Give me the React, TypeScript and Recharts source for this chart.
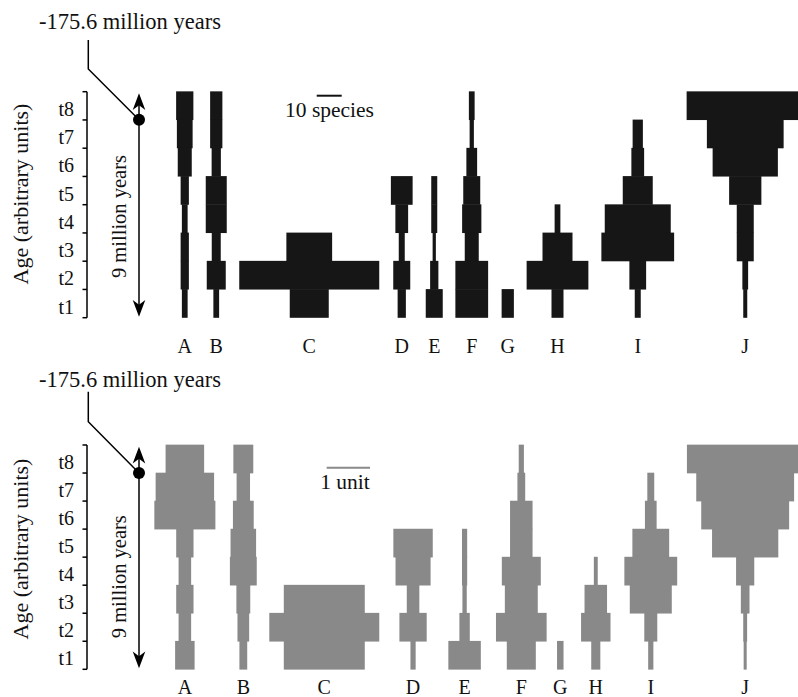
import React from "react";
import { BarChart, Bar, XAxis, YAxis } from "recharts";

const SERIF = '"Liberation Serif", "Times New Roman", "DejaVu Serif", serif';

const clades = ["A", "B", "C", "D", "E", "F", "G", "H", "I", "J"];
const timeBins = ["t1", "t2", "t3", "t4", "t5", "t6", "t7", "t8"];
const survivors = ["A", "B", "F", "J"]; // clades that reach the present (dotted)

// top panel: species richness per bin, t1 .. t8
const speciesA = [2.3, 3.3, 3.3, 2.3, 3.3, 5.6, 6.3, 6.9];
const speciesB = [2.3, 7.6, 3.6, 8.4, 8.4, 3.7, 4.9, 4.9];
const speciesC = [15.6, 56, 18.3, 0, 0, 0, 0, 0];
const speciesD = [3.3, 6.8, 2.4, 5.1, 8.7, 0, 0, 0];
const speciesE = [6.8, 3.3, 1.3, 2.4, 2.4, 0, 0, 0];
const speciesF = [13.1, 13.1, 5.6, 7.7, 6.8, 4.3, 1.7, 2.3];
const speciesG = [4.9, 0, 0, 0, 0, 0, 0, 0];
const speciesH = [4.8, 24.7, 12, 2.3, 0, 0, 0, 0];
const speciesI = [2.4, 6.7, 29.1, 26.4, 12, 5.1, 4.1, 0];
const speciesJ = [1.6, 2.3, 6.8, 6.8, 12.9, 26.1, 30.7, 46.9];
const speciesCenters = [39.1, 51.7, 88.9, 125.9, 138.9, 153.9, 168.3, 188.2, 220.3, 263.3];
const speciesMax = 284.4;

// bottom panel: same clades in arbitrary units, t1 .. t8
const unitsA = [0.45, 0.29, 0.4, 0.29, 0.4, 1.41, 1.35, 0.89];
const unitsB = [0.18, 0.27, 0.32, 0.62, 0.59, 0.48, 0.31, 0.46];
const unitsC = [1.87, 2.54, 1.87, 0, 0, 0, 0, 0];
const unitsD = [0.12, 0.63, 0.29, 0.81, 0.91, 0, 0, 0];
const unitsE = [0.75, 0.24, 0.1, 0.12, 0.12, 0, 0, 0];
const unitsF = [0.67, 1.17, 0.76, 0.9, 0.52, 0.52, 0.18, 0.12];
const unitsG = [0.15, 0, 0, 0, 0, 0, 0, 0];
const unitsH = [0.21, 0.68, 0.52, 0.09, 0, 0, 0, 0];
const unitsI = [0.12, 0.3, 0.97, 1.22, 0.85, 0.27, 0.16, 0];
const unitsJ = [0.07, 0.09, 0.2, 0.42, 1.53, 2.03, 2.26, 2.69];
const unitCenters = [2.26, 3.61, 5.48, 7.53, 8.72, 10.03, 10.93, 11.75, 13.02, 15.2];
const unitMax = 16.42;

// spindles = stacked bars: an invisible gap, then the clade, for every clade
function buildRows(widths: number[][], centers: number[]) {
  return [...timeBins].reverse().map((t) => {
    const k = timeBins.indexOf(t);
    const row: Record<string, any> = { t };
    let edge = 0;
    clades.forEach((c, i) => {
      const w = widths[i][k];
      const left = centers[i] - w / 2;
      row["gap" + c] = left - edge;
      row[c] = w;
      edge = left + w;
    });
    return row;
  });
}

const topRows = buildRows(
  [speciesA, speciesB, speciesC, speciesD, speciesE, speciesF, speciesG, speciesH, speciesI, speciesJ],
  speciesCenters
);
const bottomRows = buildRows(
  [unitsA, unitsB, unitsC, unitsD, unitsE, unitsF, unitsG, unitsH, unitsI, unitsJ],
  unitCenters
);

const serifStyle = { fontFamily: SERIF };

function TimeTick(props: any) {
  const { x, y, payload } = props;
  const half = payload && payload.offset ? payload.offset : 14;
  return (
    <g>
      <line x1={x - 4.5} x2={x} y1={y - half} y2={y - half} stroke="#000" strokeWidth={1.5} />
      {payload.value === "t1" && (
        <line x1={x - 4.5} x2={x} y1={y + half} y2={y + half} stroke="#000" strokeWidth={1.5} />
      )}
      <text x={x - 13} y={y + 10} textAnchor="end" fontSize={20} style={serifStyle} fill="#111">
        {payload.value}
      </text>
    </g>
  );
}

function CladeTick(props: any) {
  const { x, y, payload, names } = props;
  return (
    <text x={x} y={y} textAnchor="middle" fontSize={20} style={serifStyle} fill="#111">
      {names[payload.index] ?? ""}
    </text>
  );
}

// a touch of overlap between bins so no hairline seams show
function Slab(props: any) {
  const { x, y, width, height, fill } = props;
  if (!width || width <= 0) return null;
  return <rect x={x} y={y - 0.35} width={width} height={height + 0.7} fill={fill} />;
}

interface PanelProps {
  rows: Record<string, any>[];
  centers: number[];
  max: number;
  fill: string;
  height: number;
  top: number;
  bottom: number;
  labelY: number;
}

function Panel({ rows, centers, max, fill, height, top, bottom, labelY }: PanelProps) {
  const dotted = survivors.map((s) => centers[clades.indexOf(s)]);
  const plotBottom = height - bottom;
  return (
    <BarChart
      layout="vertical"
      width={798}
      height={height}
      data={rows}
      margin={{ top, right: 0, bottom: 0, left: 0 }}
      barCategoryGap={0}
      barGap={0}
    >
      <XAxis
        xAxisId="main"
        type="number"
        domain={[0, max]}
        allowDataOverflow
        ticks={centers}
        interval={0}
        height={bottom}
        axisLine={false}
        tickLine={false}
        tickSize={0}
        tick={(p: any) => <CladeTick {...p} y={plotBottom + labelY} names={clades} />}
      />
      <XAxis
        xAxisId="top"
        orientation="top"
        type="number"
        domain={[0, max]}
        allowDataOverflow
        ticks={dotted}
        interval={0}
        height={0}
        axisLine={false}
        tickLine={false}
        tick={(p: any) => (
          <line
            x1={p.x}
            x2={p.x}
            y1={top - 49}
            y2={top - 8.5}
            stroke="#000"
            strokeWidth={2}
            strokeDasharray="5 3"
          />
        )}
      />
      <YAxis
        type="category"
        dataKey="t"
        width={87}
        interval={0}
        axisLine={{ stroke: "#000", strokeWidth: 1.5 }}
        tickLine={false}
        tickSize={0}
        tickMargin={0}
        tick={(p: any) => <TimeTick {...p} />}
      />
      {clades.map((c) => [
        <Bar
          key={"gap" + c}
          xAxisId="main"
          dataKey={"gap" + c}
          stackId="s"
          fill="transparent"
          isAnimationActive={false}
        />,
        <Bar
          key={c}
          xAxisId="main"
          dataKey={c}
          stackId="s"
          fill={fill}
          shape={(p: any) => <Slab {...p} fill={fill} />}
          isAnimationActive={false}
        />,
      ])}
    </BarChart>
  );
}

interface NoteProps {
  titleY: number;
  leadTop: number;
  leadBend: number;
  dotY: number;
  arrowTop: number;
  arrowBottom: number;
  midY: number;
  ageY: number;
}

function Notes({ titleY, leadTop, leadBend, dotY, arrowTop, arrowBottom, midY, ageY }: NoteProps) {
  const ax = 139;
  return (
    <g>
      <text x={130} y={titleY} textAnchor="middle" fontSize={22.5} style={serifStyle} fill="#111">
        -175.6 million years
      </text>
      <polyline
        points={`88.3,${leadTop} 88.3,${leadBend} ${ax},${dotY}`}
        fill="none"
        stroke="#000"
        strokeWidth={1.5}
      />
      <line x1={ax} x2={ax} y1={arrowTop + 8} y2={arrowBottom - 8} stroke="#000" strokeWidth={1.5} />
      <path
        d={`M${ax},${arrowTop} L${ax + 6.3},${arrowTop + 16.7} L${ax},${arrowTop + 12} L${ax - 6.3},${arrowTop + 16.7} Z`}
        fill="#000"
      />
      <path
        d={`M${ax},${arrowBottom} L${ax + 6.3},${arrowBottom - 16.7} L${ax},${arrowBottom - 12} L${ax - 6.3},${arrowBottom - 16.7} Z`}
        fill="#000"
      />
      <circle cx={ax} cy={dotY} r={6} fill="#000" />
      <text
        x={126}
        y={midY}
        transform={`rotate(-90, 126, ${midY})`}
        textAnchor="middle"
        fontSize={20.5}
        style={serifStyle}
        fill="#111"
      >
        9 million years
      </text>
      <text
        x={28}
        y={ageY}
        transform={`rotate(-90, 28, ${ageY})`}
        textAnchor="middle"
        fontSize={22}
        style={serifStyle}
        fill="#111"
      >
        Age (arbitrary units)
      </text>
    </g>
  );
}

export default function App() {
  const pxPerSpecies = 711 / speciesMax;
  const pxPerUnit = 711 / unitMax;
  return (
    <div
      style={{
        position: "absolute",
        left: 0,
        top: 0,
        width: 798,
        height: 697,
        background: "#fff",
        fontFamily: SERIF,
      }}
    >
      <div style={{ position: "absolute", left: 0, top: 0 }}>
        <Panel
          rows={topRows}
          centers={speciesCenters}
          max={speciesMax}
          fill="#161616"
          height={365}
          top={91.7}
          bottom={47.3}
          labelY={35.3}
        />
      </div>
      <div style={{ position: "absolute", left: 0, top: 365 }}>
        <Panel
          rows={bottomRows}
          centers={unitCenters}
          max={unitMax}
          fill="#898989"
          height={332}
          top={80}
          bottom={27.7}
          labelY={25}
        />
      </div>
      <svg
        width={798}
        height={697}
        style={{ position: "absolute", left: 0, top: 0, pointerEvents: "none" }}
      >
        <Notes titleY={29} leadTop={40} leadBend={69} dotY={119.7} arrowTop={93.3} arrowBottom={316.7} midY={216.5} ageY={194} />
        <Notes titleY={386.7} leadTop={391.7} leadBend={421.7} dotY={473} arrowTop={446.7} arrowBottom={668.3} midY={576.7} ageY={549} />
        {/* scale bars */}
        <line x1={316.7} x2={316.7 + 10 * pxPerSpecies} y1={95.7} y2={95.7} stroke="#111" strokeWidth={2} />
        <text x={329.5} y={117} textAnchor="middle" fontSize={21.5} style={serifStyle} fill="#111">
          10 species
        </text>
        <line x1={326.7} x2={326.7 + 1 * pxPerUnit} y1={467.7} y2={467.7} stroke="#898989" strokeWidth={2} />
        <text x={345} y={489} textAnchor="middle" fontSize={21.5} style={serifStyle} fill="#111">
          1 unit
        </text>
      </svg>
    </div>
  );
}
